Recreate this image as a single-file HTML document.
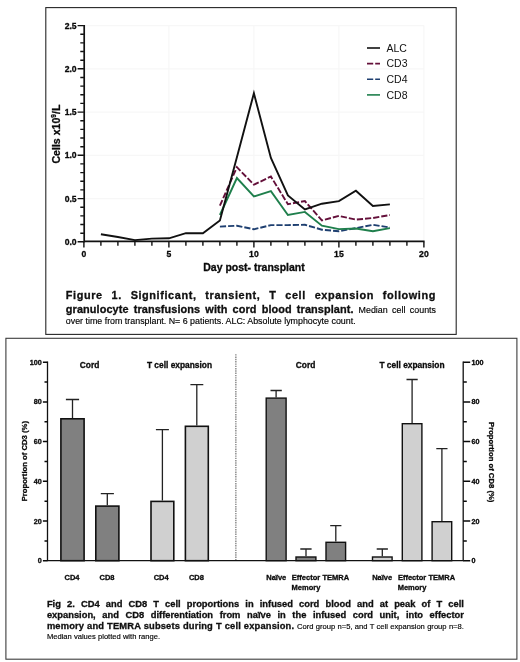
<!DOCTYPE html>
<html><head><meta charset="utf-8"><title>Figure</title>
<style>
html,body{margin:0;padding:0;background:#fff;}
body{width:520px;height:662px;position:relative;overflow:hidden;font-family:"Liberation Sans",sans-serif;color:#111;}
.ln{position:absolute;white-space:nowrap;text-align:justify;text-align-last:justify;line-height:1;}
.nl{position:absolute;white-space:nowrap;line-height:1;color:#000;-webkit-text-stroke:0.15px #000}
span{color:#000;-webkit-text-stroke:0.15px #000}
b{font-weight:bold;-webkit-text-stroke:0.3px #0a0a0a}
</style></head><body><div id="w" style="position:absolute;left:0;top:0;width:520px;height:662px;will-change:transform;filter:blur(0.38px)">
<svg width="520" height="662" viewBox="0 0 520 662" style="position:absolute;left:0;top:0">
<rect x="45.8" y="7.6" width="410.4" height="326.8" fill="#fff" stroke="#262626" stroke-width="1.1"/>
<rect x="5.9" y="338.3" width="511" height="320.9" fill="#fff" stroke="#3c3c3c" stroke-width="1.1"/>
<path d="M83.9 198.6H423.9M83.9 155.3H423.9M83.9 112.1H423.9M83.9 68.8H423.9M83.9 25.6H423.9M168.9 241.8V25.6M253.9 241.8V25.6M338.9 241.8V25.6M423.9 241.8V25.6" stroke="#f7f7f7" stroke-width="1.2" fill="none"/>
<path d="M84.20 25.0V242.5M83.5 241.4H424.6" stroke="#111" stroke-width="1.7" fill="none"/>
<path d="M77.6 241.8H83.9M80.3 233.2H83.9M80.3 224.5H83.9M80.3 215.9H83.9M80.3 207.2H83.9M77.6 198.6H83.9M80.3 189.9H83.9M80.3 181.2H83.9M80.3 172.6H83.9M80.3 163.9H83.9M77.6 155.3H83.9M80.3 146.7H83.9M80.3 138.0H83.9M80.3 129.4H83.9M80.3 120.7H83.9M77.6 112.1H83.9M80.3 103.4H83.9M80.3 94.8H83.9M80.3 86.1H83.9M80.3 77.5H83.9M77.6 68.8H83.9M80.3 60.2H83.9M80.3 51.5H83.9M80.3 42.9H83.9M80.3 34.2H83.9M77.6 25.6H83.9M83.9 241.8V247.4M100.9 241.8V245.7M117.9 241.8V245.7M134.9 241.8V245.7M151.9 241.8V245.7M168.9 241.8V247.4M185.9 241.8V245.7M202.9 241.8V245.7M219.9 241.8V245.7M236.9 241.8V245.7M253.9 241.8V247.4M270.9 241.8V245.7M287.9 241.8V245.7M304.9 241.8V245.7M321.9 241.8V245.7M338.9 241.8V247.4M355.9 241.8V245.7M372.9 241.8V245.7M389.9 241.8V245.7M406.9 241.8V245.7M423.9 241.8V247.4" stroke="#111" stroke-width="1.4" fill="none"/>
<g font-family="Liberation Sans, sans-serif" font-weight="bold" fill="#0a0a0a" stroke="#0a0a0a" stroke-width="0.3">
<text x="76.6" y="244.8" font-size="8.6" text-anchor="end">0.0</text>
<text x="76.6" y="201.6" font-size="8.6" text-anchor="end">0.5</text>
<text x="76.6" y="158.3" font-size="8.6" text-anchor="end">1.0</text>
<text x="76.6" y="115.1" font-size="8.6" text-anchor="end">1.5</text>
<text x="76.6" y="71.8" font-size="8.6" text-anchor="end">2.0</text>
<text x="76.6" y="28.6" font-size="8.6" text-anchor="end">2.5</text>
<text x="83.9" y="256.8" font-size="8.6" text-anchor="middle">0</text>
<text x="168.9" y="256.8" font-size="8.6" text-anchor="middle">5</text>
<text x="253.9" y="256.8" font-size="8.6" text-anchor="middle">10</text>
<text x="338.9" y="256.8" font-size="8.6" text-anchor="middle">15</text>
<text x="423.9" y="256.8" font-size="8.6" text-anchor="middle">20</text>
<text x="254" y="270.9" font-size="10.5" text-anchor="middle">Day post- transplant</text>
<text transform="translate(60,134.1) rotate(-90)" font-size="10.6" text-anchor="middle">Cells x10<tspan font-size="6.5" dy="-4">9</tspan><tspan dy="4">/L</tspan></text>
</g>
<g fill="none" stroke-width="1.9" stroke-linejoin="miter" stroke-linecap="butt">
<path d="M219.9 226.6 L236.9 225.7 L253.9 229.3 L270.9 225.1 L287.9 225.1 L304.9 224.8 L321.9 229.7 L338.9 231.2 L355.9 228.1 L372.9 224.8 L389.9 227.5" stroke="#1e3f70" stroke-dasharray="6.2 2.0"/>
<path d="M219.9 215.0 L236.9 178.0 L253.9 196.5 L270.9 191.2 L287.9 215.0 L304.9 211.9 L321.9 225.7 L338.9 229.1 L355.9 228.5 L372.9 231.2 L389.9 228.1" stroke="#1f7f4c"/>
<path d="M219.9 205.7 L236.9 167.2 L253.9 184.7 L270.9 176.5 L287.9 204.2 L304.9 201.1 L321.9 220.4 L338.9 215.9 L355.9 219.6 L372.9 218.0 L389.9 215.0" stroke="#64103a" stroke-dasharray="6.2 2.0"/>
<path d="M100.9 234.3 L117.9 237.0 L134.9 240.1 L151.9 238.6 L168.9 238.3 L185.9 233.2 L202.9 233.3 L219.9 220.5 L236.9 157.3 L253.9 93.3 L270.9 158.0 L287.9 195.5 L304.9 209.4 L321.9 203.7 L338.9 201.1 L355.9 190.8 L372.9 206.0 L389.9 204.4" stroke="#111"/>
</g><g fill="none" stroke-width="1.6">
<path d="M367 48H380" stroke="#111"/>
<path d="M367 63.6H380" stroke="#64103a" stroke-dasharray="6.2 2.0"/>
<path d="M367 79.2H380" stroke="#1e3f70" stroke-dasharray="6.2 2.0"/>
<path d="M367 94.9H380" stroke="#1f7f4c"/>
</g>
<g font-family="Liberation Sans, sans-serif" font-size="10.5" fill="#111">
<text x="386.5" y="51.8">ALC</text>
<text x="386.5" y="67.4">CD3</text>
<text x="386.5" y="83.0">CD4</text>
<text x="386.5" y="98.6">CD8</text>
</g>
<path d="M235.85 354.2V560" stroke="#858585" stroke-width="1.4" stroke-dasharray="1.4 0.9" fill="none"/>
<path d="M72.5 418.0V399.5M65.9 399.5H79.1" stroke="#222" stroke-width="1.3" fill="none"/>
<rect x="60.90" y="418.80" width="23.20" height="141.90" fill="#808080" stroke="#111" stroke-width="1.6"/>
<path d="M107.3 505.3V493.6M100.8 493.6H113.9" stroke="#222" stroke-width="1.3" fill="none"/>
<rect x="95.80" y="506.10" width="23.10" height="54.60" fill="#808080" stroke="#111" stroke-width="1.6"/>
<path d="M162.4 500.6V429.7M155.9 429.7H168.9" stroke="#222" stroke-width="1.3" fill="none"/>
<rect x="151.00" y="501.40" width="22.80" height="59.30" fill="#d0d0d0" stroke="#111" stroke-width="1.6"/>
<path d="M196.8 425.5V384.7M190.4 384.7H203.3" stroke="#222" stroke-width="1.3" fill="none"/>
<rect x="185.40" y="426.30" width="22.90" height="134.40" fill="#d0d0d0" stroke="#111" stroke-width="1.6"/>
<path d="M276.1 397.4V390.5M270.5 390.5H281.8" stroke="#222" stroke-width="1.3" fill="none"/>
<rect x="266.20" y="398.10" width="19.90" height="162.60" fill="#808080" stroke="#111" stroke-width="1.4"/>
<path d="M306.0 556.3V549.0M300.3 549.0H311.6" stroke="#222" stroke-width="1.3" fill="none"/>
<rect x="296.00" y="557.00" width="19.90" height="3.70" fill="#808080" stroke="#111" stroke-width="1.4"/>
<path d="M335.8 541.6V525.6M330.2 525.6H341.4" stroke="#222" stroke-width="1.3" fill="none"/>
<rect x="326.00" y="542.30" width="19.60" height="18.40" fill="#808080" stroke="#111" stroke-width="1.4"/>
<path d="M382.3 556.3V549.0M376.7 549.0H387.9" stroke="#222" stroke-width="1.3" fill="none"/>
<rect x="372.50" y="557.00" width="19.60" height="3.70" fill="#d0d0d0" stroke="#111" stroke-width="1.4"/>
<path d="M412.1 423.0V379.5M406.5 379.5H417.7" stroke="#222" stroke-width="1.3" fill="none"/>
<rect x="402.30" y="423.70" width="19.60" height="137.00" fill="#d0d0d0" stroke="#111" stroke-width="1.4"/>
<path d="M441.9 521.0V448.6M436.3 448.6H447.5" stroke="#222" stroke-width="1.3" fill="none"/>
<rect x="432.10" y="521.70" width="19.60" height="39.00" fill="#d0d0d0" stroke="#111" stroke-width="1.4"/>
<path d="M47.5 361.6V561.3M463.2 361.6V561.3M47.5 560.7H463.2" stroke="#111" stroke-width="1.3" fill="none"/>
<path d="M42.9 560.7H47.5M463.2 560.7H470.2M44.5 540.9H47.5M463.2 540.9H466.8M42.9 521.0H47.5M463.2 521.0H470.2M44.5 501.2H47.5M463.2 501.2H466.8M42.9 481.3H47.5M463.2 481.3H470.2M44.5 461.5H47.5M463.2 461.5H466.8M42.9 441.6H47.5M463.2 441.6H470.2M44.5 421.8H47.5M463.2 421.8H466.8M42.9 401.9H47.5M463.2 401.9H470.2M44.5 382.1H47.5M463.2 382.1H466.8M42.9 362.2H47.5M463.2 362.2H470.2" stroke="#0a0a0a" stroke-width="1.5" fill="none"/>
<g font-family="Liberation Sans, sans-serif" font-weight="bold" fill="#0a0a0a" stroke="#0a0a0a" stroke-width="0.3">
<text x="41.8" y="563.2" font-size="7.2" text-anchor="end">0</text>
<text x="471.6" y="563.2" font-size="7.2">0</text>
<text x="41.8" y="523.5" font-size="7.2" text-anchor="end">20</text>
<text x="471.6" y="523.5" font-size="7.2">20</text>
<text x="41.8" y="483.8" font-size="7.2" text-anchor="end">40</text>
<text x="471.6" y="483.8" font-size="7.2">40</text>
<text x="41.8" y="444.1" font-size="7.2" text-anchor="end">60</text>
<text x="471.6" y="444.1" font-size="7.2">60</text>
<text x="41.8" y="404.4" font-size="7.2" text-anchor="end">80</text>
<text x="471.6" y="404.4" font-size="7.2">80</text>
<text x="41.8" y="364.7" font-size="7.2" text-anchor="end">100</text>
<text x="471.6" y="364.7" font-size="7.2">100</text>
<text x="89.6" y="367.5" font-size="8.4" text-anchor="middle">Cord</text>
<text x="179.5" y="367.5" font-size="8.4" text-anchor="middle">T cell expansion</text>
<text x="305.5" y="367.6" font-size="8.4" text-anchor="middle">Cord</text>
<text x="412" y="367.6" font-size="8.4" text-anchor="middle">T cell expansion</text>
<text x="72.0" y="579.8" font-size="7.5" text-anchor="middle">CD4</text>
<text x="107.0" y="579.8" font-size="7.5" text-anchor="middle">CD8</text>
<text x="161.2" y="579.8" font-size="7.5" text-anchor="middle">CD4</text>
<text x="196.4" y="579.8" font-size="7.5" text-anchor="middle">CD8</text>
<text x="276.3" y="579.8" font-size="7.5" text-anchor="middle">Naïve</text>
<text x="306.0" y="579.8" font-size="7.5" text-anchor="middle">Effector</text>
<text x="335.8" y="579.8" font-size="7.5" text-anchor="middle">TEMRA</text>
<text x="382.2" y="579.8" font-size="7.5" text-anchor="middle">Naïve</text>
<text x="412.1" y="579.8" font-size="7.5" text-anchor="middle">Effector</text>
<text x="441.8" y="579.8" font-size="7.5" text-anchor="middle">TEMRA</text>
<text x="306.0" y="590" font-size="7.5" text-anchor="middle">Memory</text>
<text x="412.1" y="590" font-size="7.5" text-anchor="middle">Memory</text>
<text transform="translate(26.5,461.2) rotate(-90)" font-size="7.7" text-anchor="middle">Proportion of CD3 (%)</text>
<text transform="translate(489.4,462.2) rotate(90)" font-size="7.7" text-anchor="middle">Proportion of CD8 (%)</text>
</g>
</svg>
<div class="ln" style="left:65.8px;top:290.0px;width:370.2px;font-size:10.9px;letter-spacing:0.6px"><b>Figure 1. Significant, transient, T cell expansion following</b></div>
<div class="ln" style="left:65.8px;top:304.0px;width:370.2px;font-size:10.9px"><b style="letter-spacing:0.1px">granulocyte transfusions with cord blood transplant.</b> <span style="font-size:8.9px">Median cell counts</span></div>
<div class="nl" style="left:65.8px;top:316.7px;font-size:8.87px">over time from transplant. N= 6 patients. ALC: Absolute lymphocyte count.</div>
<div class="ln" style="left:46.9px;top:599.6px;width:417px;font-size:9.35px"><b>Fig 2. CD4 and CD8 T cell proportions in infused cord blood and at peak of T cell</b></div>
<div class="ln" style="left:46.9px;top:611.3px;width:417px;font-size:9.35px"><b>expansion, and CD8 differentiation from naïve in the infused cord unit, into effector</b></div>
<div class="ln" style="left:46.9px;top:622.3px;width:417px;font-size:9.35px"><b style="letter-spacing:0.15px">memory and TEMRA subsets during T cell expansion.</b> <span style="font-size:7.6px">Cord group n=5, and T cell expansion group n=8.</span></div>
<div class="nl" style="left:46.9px;top:633.0px;font-size:7.6px">Median values plotted with range.</div>
</div></body></html>
